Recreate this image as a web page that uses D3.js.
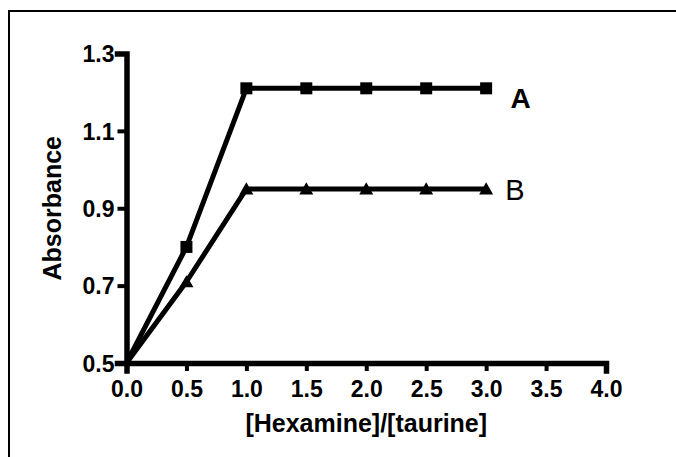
<!DOCTYPE html>
<html>
<head>
<meta charset="utf-8">
<script src="https://cdn.jsdelivr.net/npm/d3@7"></script>
<style>
  html, body { margin: 0; padding: 0; background: #fff; overflow: hidden; }
  svg { display: block; }
</style>
</head>
<body>
<svg id="chart" width="676" height="457"></svg>
<script>
// Absorbance versus [Hexamine]/[taurine] molar ratio
const ratios   = [0, 0.5, 1.0, 1.5, 2.0, 2.5, 3.0];
const seriesA  = [0.5, 0.80, 1.21, 1.21, 1.21, 1.21, 1.21];
const seriesB  = [0.5, 0.71, 0.95, 0.95, 0.95, 0.95, 0.95];
const xTicks   = [0, 0.5, 1.0, 1.5, 2.0, 2.5, 3.0, 3.5, 4.0];
const yTicks   = [0.5, 0.7, 0.9, 1.1, 1.3];
const seriesNames = ["A", "B"];

const svg = d3.select("#chart");
const font = "Arial, 'Liberation Sans', sans-serif";

// outer frame (runs off the right and bottom edges)
svg.append("rect")
  .attr("x", 9).attr("y", 11)
  .attr("width", 720).attr("height", 500)
  .attr("fill", "none").attr("stroke", "#000").attr("stroke-width", 2);

const x = d3.scaleLinear().domain([0, 4]).range([126.5, 606]);
const y = d3.scaleLinear().domain([0.5, 1.3]).range([363, 53.5]);

// axes
const xAxis = d3.axisBottom(x).tickValues(xTicks).tickFormat(d3.format(".1f"))
  .tickSizeOuter(0).tickSize(8).tickPadding(9);
const yAxis = d3.axisLeft(y).tickValues(yTicks).tickFormat(d3.format(".1f"))
  .tickSizeOuter(0).tickSize(9).tickPadding(3);

const gx = svg.append("g").attr("transform", `translate(0,${y(0.5)})`).call(xAxis);
const gy = svg.append("g").attr("transform", `translate(${x(0)},0)`).call(yAxis);

[gx, gy].forEach(g => {
  g.select(".domain").attr("stroke", "#000").attr("stroke-width", 5.5).attr("stroke-linecap", "square");
  g.selectAll(".tick line").attr("stroke", "#000").attr("stroke-width", 4);
  g.selectAll(".tick text")
    .attr("fill", "#000")
    .style("font-family", font)
    .style("font-weight", "bold")
    .style("font-size", "23px");
});
gy.selectAll(".tick text").attr("dy", "0.36em");
gx.selectAll(".tick text").attr("dy", "0.72em");

// series lines
const line = d3.line().x(d => x(d[0])).y(d => y(d[1]));
const dataA = ratios.map((r, i) => [r, seriesA[i]]);
const dataB = ratios.map((r, i) => [r, seriesB[i]]);

[dataA, dataB].forEach(d => {
  svg.append("path").datum(d)
    .attr("d", line)
    .attr("fill", "none")
    .attr("stroke", "#000")
    .attr("stroke-width", 5)
    .attr("stroke-linejoin", "round");
});

// markers (the shared origin point has none)
svg.append("g").selectAll("rect")
  .data(dataA.slice(1))
  .join("rect")
  .attr("x", d => x(d[0]) - 6)
  .attr("y", d => y(d[1]) - 6)
  .attr("width", 12).attr("height", 12)
  .attr("fill", "#000");

const tri = d3.symbol().type(d3.symbolTriangle).size(85);
svg.append("g").selectAll("path")
  .data(dataB.slice(1))
  .join("path")
  .attr("d", tri)
  .attr("transform", d => `translate(${x(d[0])},${y(d[1]) + 1.5})`)
  .attr("fill", "#000");

// series labels
svg.append("text")
  .attr("x", 520.5).attr("y", 108)
  .attr("text-anchor", "middle")
  .style("font-family", font).style("font-weight", "bold").style("font-size", "28px")
  .text(seriesNames[0]);
svg.append("text")
  .attr("x", 515).attr("y", 200)
  .attr("text-anchor", "middle")
  .style("font-family", font).style("font-size", "29px")
  .text(seriesNames[1]);

// axis titles
svg.append("text")
  .attr("x", x(2)).attr("y", 432)
  .attr("text-anchor", "middle")
  .style("font-family", font).style("font-weight", "bold").style("font-size", "25px")
  .text("[Hexamine]/[taurine]");
svg.append("text")
  .attr("transform", `translate(61,${y(0.9)}) rotate(-90)`)
  .attr("text-anchor", "middle")
  .style("font-family", font).style("font-weight", "bold").style("font-size", "25px")
  .text("Absorbance");
</script>
</body>
</html>
